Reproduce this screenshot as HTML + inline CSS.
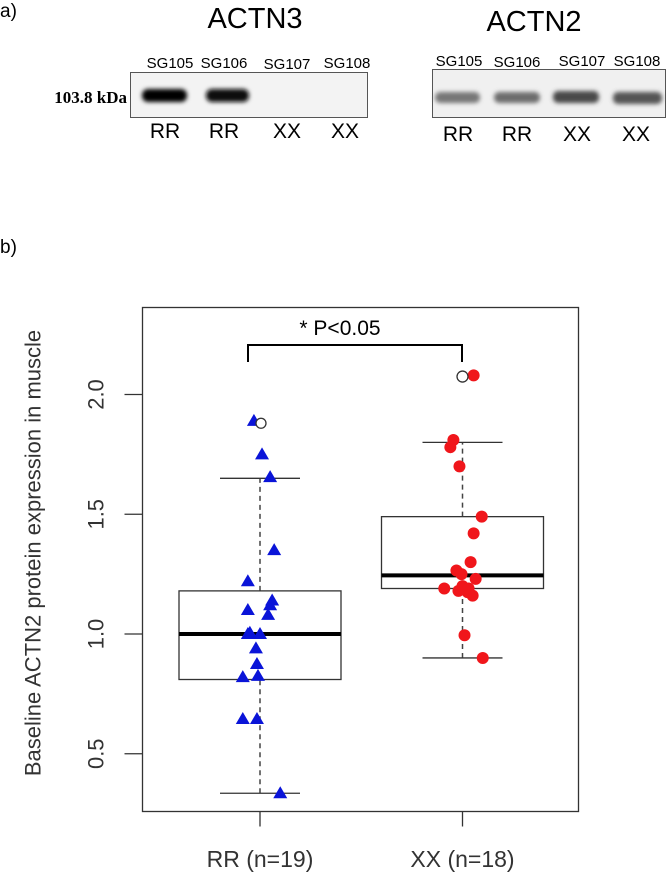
<!DOCTYPE html>
<html><head><meta charset="utf-8"><style>
html,body{margin:0;padding:0;background:#fff;}
body{width:666px;height:877px;position:relative;overflow:hidden;font-family:"Liberation Sans",sans-serif;}
</style></head><body>
<svg width="666" height="877" style="position:absolute;left:0;top:0">
 <defs>
  <filter id="blur" x="-20%" y="-50%" width="140%" height="200%"><feGaussianBlur stdDeviation="2.2"/></filter>
 </defs>
 <g>
  <text x="0" y="17" font-size="19">a)</text>
  <text x="255" y="28" font-size="29" text-anchor="middle">ACTN3</text>
  <text x="534" y="31" font-size="29" text-anchor="middle">ACTN2</text>
  <rect x="130.5" y="72.5" width="237" height="45" fill="#f3f3f3" stroke="#555"/>
  <rect x="142" y="89" width="45" height="13" rx="6" fill="#000" filter="url(#blur)"/>
  <rect x="206" y="89" width="43" height="13" rx="6" fill="#0a0a0a" filter="url(#blur)"/>
  <rect x="432.5" y="69.5" width="233" height="48" fill="#f0f0f0" stroke="#555"/>
  <rect x="435" y="92" width="45" height="11" rx="5" fill="#777" filter="url(#blur)"/>
  <rect x="494" y="92" width="46" height="11" rx="5" fill="#6d6d6d" filter="url(#blur)"/>
  <rect x="553" y="91" width="46" height="12" rx="5" fill="#4a4a4a" filter="url(#blur)"/>
  <rect x="613" y="92" width="49" height="12" rx="5" fill="#555" filter="url(#blur)"/>
  <text x="127" y="103" font-size="17" font-weight="bold" text-anchor="end" font-family="Liberation Serif, serif">103.8 kDa</text>
  <g font-size="15" text-anchor="middle">
   <text x="170" y="68">SG105</text><text x="224" y="68">SG106</text><text x="287" y="69">SG107</text><text x="347" y="68">SG108</text>
  </g>
  <g font-size="15" text-anchor="middle">
   <text x="459" y="66">SG105</text><text x="517" y="67">SG106</text><text x="582" y="66">SG107</text><text x="637" y="66">SG108</text>
  </g>
  <g font-size="21" text-anchor="middle">
   <text x="165" y="138">RR</text><text x="224" y="138">RR</text><text x="287" y="138">XX</text><text x="345" y="138">XX</text>
  </g>
  <g font-size="21" text-anchor="middle">
   <text x="458" y="141">RR</text><text x="517" y="141">RR</text><text x="577" y="141">XX</text><text x="636" y="141">XX</text>
  </g>
 </g>
 <text x="0" y="253" font-size="19">b)</text>
 <g id="chart"></g>
</svg>
<script>
const categories = ["RR (n=19)", "XX (n=18)"];
const yTicks = [0.5, 1.0, 1.5, 2.0];
const yTickLabels = ["0.5", "1.0", "1.5", "2.0"];
// box stats: [lowerWhisker, q1, median, q3, upperWhisker]
const rrStats = [0.335, 0.81, 1.0, 1.18, 1.65];
const xxStats = [0.90, 1.19, 1.245, 1.49, 1.80];
const rrOutliers = [1.88];
const xxOutliers = [2.075];
const rrValues = [1.89,1.75,1.655,1.35,1.22,1.14,1.12,1.10,1.08,1.005,1.0,1.0,0.94,0.875,0.82,0.825,0.645,0.645,0.335];
const rrJitter = [-0.03,0.01,0.05,0.07,-0.06,0.06,0.05,-0.06,0.04,-0.05,0.0,-0.06,-0.02,-0.015,-0.085,-0.01,-0.085,-0.015,0.1];
const xxValues = [2.08,1.81,1.78,1.70,1.49,1.42,1.30,1.265,1.23,1.19,1.20,1.175,1.16,1.18,1.19,0.995,0.90,1.25];
const xxJitter = [0.055,-0.045,-0.06,-0.015,0.095,0.055,0.04,-0.03,0.065,-0.09,0.0,0.025,0.05,-0.02,0.03,0.01,0.1,-0.005];

const NS="http://www.w3.org/2000/svg";
const chart=document.getElementById('chart');
const L=142.5,R=578.5,T=307.5,B=811.5;
function yScale(v){return 634-(v-1)*239.5;}
function xScale(i){return 260+i*202.5;}
const boxW=162, capW=80;
function mk(tag,attrs,parent){const e=document.createElementNS(NS,tag);for(const k in attrs)e.setAttribute(k,attrs[k]);(parent||chart).appendChild(e);return e;}

const frame=mk('rect',{x:L,y:T,width:R-L,height:B-T,fill:'none',stroke:'#333','stroke-width':1.3});



yTicks.forEach((v,i)=>{
  const y=yScale(v);
  const tk=mk('line',{x1:L-18,x2:L,y1:y,y2:y,stroke:'#333','stroke-width':1.3});
  
  
  const t=mk('text',{x:96,y:y,'font-size':22,'text-anchor':'middle','dominant-baseline':'central',fill:'#333',transform:`rotate(-90 96 ${y})`});
  t.textContent=yTickLabels[i];
  
  
});
const yt=mk('text',{x:33,y:553,'font-size':22,'text-anchor':'middle','dominant-baseline':'central',fill:'#333',transform:'rotate(-90 33 553)'});
yt.textContent='Baseline ACTN2 protein expression in muscle';



categories.forEach((c,i)=>{
  const x=xScale(i);
  const tk=mk('line',{x1:x,x2:x,y1:B,y2:B+15,stroke:'#333','stroke-width':1.3});
  
  
  const t=mk('text',{x:x,y:867,'font-size':23,'text-anchor':'middle',fill:'#333'});
  t.textContent=c;
  
  
});

function drawBox(i,s,name){
  const x=xScale(i);
  const g=mk('g',{});
  
  
  mk('line',{x1:x,x2:x,y1:yScale(s[0]),y2:yScale(s[1]),stroke:'#444','stroke-width':1.5,'stroke-dasharray':'5,4'},g);
  mk('line',{x1:x,x2:x,y1:yScale(s[3]),y2:yScale(s[4]),stroke:'#444','stroke-width':1.5,'stroke-dasharray':'5,4'},g);
  mk('line',{x1:x-capW/2,x2:x+capW/2,y1:yScale(s[0]),y2:yScale(s[0]),stroke:'#333','stroke-width':1.3},g);
  mk('line',{x1:x-capW/2,x2:x+capW/2,y1:yScale(s[4]),y2:yScale(s[4]),stroke:'#333','stroke-width':1.3},g);
  mk('rect',{x:x-boxW/2,y:yScale(s[3]),width:boxW,height:yScale(s[1])-yScale(s[3]),fill:'none',stroke:'#333','stroke-width':1.3},g);
  mk('line',{x1:x-boxW/2,x2:x+boxW/2,y1:yScale(s[2]),y2:yScale(s[2]),stroke:'#000','stroke-width':4},g);
}
drawBox(0,rrStats,'rr');
drawBox(1,xxStats,'xx');

rrValues.forEach((v,k)=>{
  const x=xScale(0)+rrJitter[k]*202.5, y=yScale(v);
  const p=mk('polygon',{points:`${x},${y-7} ${x-7},${y+5} ${x+7},${y+5}`,fill:'#0a14d8'});
  
  
});
xxValues.forEach((v,k)=>{
  const c=mk('circle',{cx:xScale(1)+xxJitter[k]*202.5,cy:yScale(v),r:6,fill:'#f0161b'});
  
  
});
rrOutliers.forEach(v=>{
  const c=mk('circle',{cx:xScale(0)+1,cy:yScale(v),r:5,fill:'#fff',stroke:'#333','stroke-width':1.3});
  
  
});
xxOutliers.forEach(v=>{
  const c=mk('circle',{cx:xScale(1),cy:yScale(v),r:5.5,fill:'#fff',stroke:'#333','stroke-width':1.3});
  
  
});

const br=mk('path',{d:'M248,362 V345 H462 V362',fill:'none',stroke:'#000','stroke-width':2});


const st=mk('text',{x:340,y:335,'font-size':21,'text-anchor':'middle',fill:'#000'});
st.textContent='*  P<0.05';


</script>
</body></html>
